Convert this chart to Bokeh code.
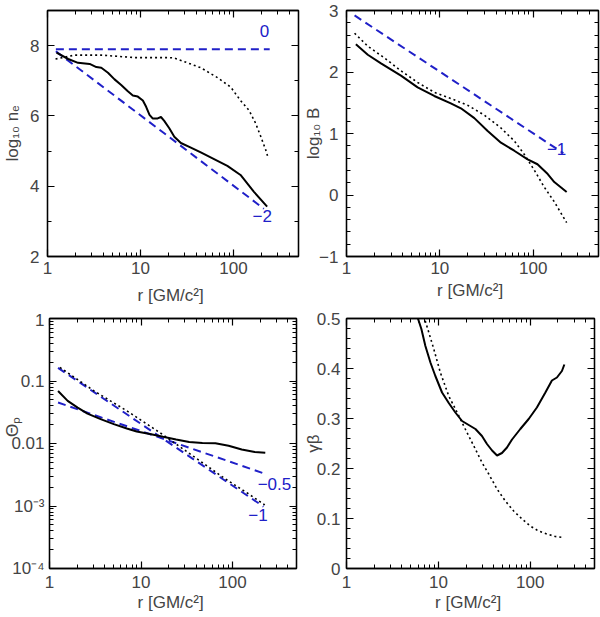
import numpy as np
from bokeh.plotting import figure
from bokeh.layouts import column, row
from bokeh.models import Range1d, FixedTicker, LinearAxis, LogAxis, Label
from bokeh.embed import file_html
from bokeh.resources import INLINE

FONT = "Liberation Sans"
BLUE = "#2020c8"

# --- panel 1: log10 n_e ---
r_ne = [1.25, 1.67, 2.13, 2.84, 3.35, 3.79, 4.47, 5.26, 6.20, 7.31, 8.27, 9.35, 10.6, 11.5,
        12.5, 13.5, 15.3, 16.6, 18.0, 20.4, 23.1, 27.2, 34.8, 44.5, 61.8, 85.9, 119, 166, 230]
ne = [7.80, 7.62, 7.51, 7.48, 7.39, 7.37, 7.23, 7.04, 6.88, 6.70, 6.58, 6.55, 6.44, 6.26,
      6.03, 5.93, 5.93, 5.97, 5.86, 5.65, 5.41, 5.23, 5.10, 4.96, 4.77, 4.58, 4.32, 3.84, 3.42]
r_ne_dot = [1.22, 1.96, 3.79, 8.60, 19.6, 23.1, 44.6, 67.2, 93.3, 119, 147, 173, 196, 221, 235]
ne_dot = [7.62, 7.73, 7.73, 7.66, 7.66, 7.65, 7.37, 7.09, 6.82, 6.44, 6.16, 5.79, 5.42, 5.05, 4.82]
r_ne_g0, ne_g0 = [1.23, 245], [7.9, 7.9]
r_ne_g2, ne_g2 = [1.23, 212], [7.84, 3.36]

# --- panel 2: log10 B ---
r_b = [1.26, 1.69, 2.34, 3.83, 5.78, 8.71, 13.1, 16.8, 23.4, 32.5, 45.1, 62.6, 87.1, 111, 143, 168, 228]
b = [2.45, 2.28, 2.14, 1.94, 1.75, 1.61, 1.49, 1.41, 1.25, 1.04, 0.85, 0.72, 0.58, 0.50, 0.34, 0.21, 0.05]
r_b_dot = [1.22, 1.69, 2.54, 3.83, 5.78, 8.71, 13.1, 19.8, 29.9, 45.1, 62.6, 80.2, 103, 131, 168, 228]
b_dot = [2.63, 2.42, 2.23, 2.02, 1.83, 1.67, 1.57, 1.46, 1.30, 1.09, 0.88, 0.66, 0.40, 0.13, -0.11, -0.45]
r_b_g1, b_g1 = [1.22, 210], [2.92, 0.68]

# --- panel 3: Theta_p ---
r_th = [1.24, 1.58, 2.03, 2.60, 3.62, 5.04, 7.00, 8.97, 12.5, 17.4, 24.2, 33.6, 46.8, 65.0, 90.6, 126, 175, 228]
th = [0.0690, 0.0481, 0.0376, 0.0301, 0.0245, 0.0204, 0.0174, 0.0156, 0.0142, 0.0128, 0.0116,
      0.0106, 0.0102, 0.0101, 0.0092, 0.0080, 0.0073, 0.0071]
r_th_dot = [1.30, 3.07, 7.00, 16.0, 36.5, 83.2, 149, 225]
th_dot = [0.165, 0.0693, 0.0333, 0.0150, 0.0064, 0.00272, 0.00157, 0.00104]
r_th_g05, th_g05 = [1.24, 218], [0.0452, 0.00334]
r_th_g1, th_g1 = [1.24, 218], [0.162, 0.00098]

# --- panel 4: gamma beta ---
r_gb = [5.87, 6.53, 7.22, 8.19, 9.27, 10.96, 12.97, 15.3, 18.1, 21.4, 25.3, 29.8, 33.8, 38.4,
        43.5, 49.2, 55.8, 63.3, 77.9, 96.1, 118, 146, 172, 195, 221, 235]
gb = [0.505, 0.479, 0.445, 0.412, 0.385, 0.352, 0.331, 0.312, 0.295, 0.287, 0.279, 0.265, 0.249,
      0.236, 0.226, 0.231, 0.242, 0.258, 0.279, 0.299, 0.322, 0.352, 0.376, 0.382, 0.395, 0.408]
r_gb_dot = [6.93, 7.87, 8.91, 10.5, 12.97, 16.0, 19.6, 24.3, 29.8, 35.3, 43.5, 53.5, 66.0, 81.3,
            100, 123, 152, 187, 231]
gb_dot = [0.505, 0.472, 0.439, 0.392, 0.345, 0.312, 0.279, 0.245, 0.212, 0.189, 0.159, 0.135,
          0.115, 0.099, 0.085, 0.075, 0.069, 0.064, 0.062]

x_major = [1, 10, 100]
x_minor = [k * 10 ** n for n in range(3) for k in range(2, 10)]
x_labels = {1: "1", 10: "10", 100: "100"}
x_title = "r  [GM/c²]"


def style_axis(ax, ticker, show_labels):
    ax.ticker = ticker
    ax.axis_line_width = 1.3
    ax.major_tick_in = 7
    ax.major_tick_out = 0
    ax.minor_tick_in = 4
    ax.minor_tick_out = 0
    ax.major_tick_line_width = 1.2
    ax.minor_tick_line_width = 1
    ax.major_label_text_font = FONT
    ax.axis_label_text_font = FONT
    ax.axis_label_text_font_style = "normal"
    if not show_labels:
        ax.major_label_text_font_size = "1px"
        ax.major_label_text_alpha = 0
        ax.major_label_standoff = 0


def make_panel(width, height, borders, y_type, y_lim, y_major, y_minor, y_labels, y_title,
               y_tick_off, y_standoff, x_tick_off, x_standoff):
    left, right, top, bottom = borders
    p = figure(width=width, height=height, x_axis_type="log", y_axis_type=y_type,
               x_range=Range1d(1, 500), y_range=Range1d(*y_lim),
               min_border_left=left, min_border_right=right,
               min_border_top=top, min_border_bottom=bottom,
               output_backend="svg", toolbar_location=None)
    p.xgrid.visible = False
    p.ygrid.visible = False
    p.outline_line_color = "black"
    p.outline_line_width = 1.3

    xb = p.xaxis[0]
    style_axis(xb, FixedTicker(ticks=x_major, minor_ticks=x_minor), True)
    xb.major_label_overrides = x_labels
    xb.major_label_text_font_size = "17px"
    xb.major_label_standoff = x_tick_off
    xb.axis_label = x_title
    xb.axis_label_text_font_size = "17px"
    xb.axis_label_standoff = x_standoff

    yl = p.yaxis[0]
    style_axis(yl, FixedTicker(ticks=y_major, minor_ticks=y_minor), True)
    yl.major_label_overrides = y_labels
    yl.major_label_text_font_size = "17px"
    yl.major_label_standoff = y_tick_off
    yl.axis_label = y_title
    yl.axis_label_text_font_size = "17px"
    yl.axis_label_standoff = y_standoff

    top_ax = LogAxis()
    style_axis(top_ax, FixedTicker(ticks=x_major, minor_ticks=x_minor), False)
    p.add_layout(top_ax, "above")
    right_ax = LogAxis() if y_type == "log" else LinearAxis()
    style_axis(right_ax, FixedTicker(ticks=y_major, minor_ticks=y_minor), False)
    p.add_layout(right_ax, "right")
    return p


def solid(p, x, y):
    p.line(x, y, line_color="black", line_width=2)


def dotted(p, x, y):
    p.line(x, y, line_color="black", line_width=1.6, line_dash="2 3")


def dashed(p, x, y):
    p.line(x, y, line_color=BLUE, line_width=2, line_dash="8 5")


def tag(p, x, y, text):
    p.add_layout(Label(x=x, y=y, text=text, text_color=BLUE, text_font=FONT,
                       text_font_size="17px", text_align="center", text_baseline="middle"))


# panel 1
p1 = make_panel(300, 310, (46, 2, 5, 54), "linear", (2, 9), [2, 4, 6, 8], [3, 5, 7, 9],
                {2: "2", 4: "4", 6: "6", 8: "8"}, "log₁₀ nₑ", 8, 5, 5, 9)
dashed(p1, r_ne_g0, ne_g0)
dashed(p1, r_ne_g2, ne_g2)
dotted(p1, r_ne_dot, ne_dot)
solid(p1, r_ne, ne)
tag(p1, 216, 8.41, "0")
tag(p1, 204, 3.14, "−2")

# panel 2
b_minor = [round(-1 + 0.2 * i, 1) for i in range(21)]
p2 = make_panel(300, 310, (46, 2, 10, 49), "linear", (-1, 3), [-1, 0, 1, 2, 3], b_minor,
                {-1: "−1", 0: "0", 1: "1", 2: "2", 3: "3"}, "log₁₀ B", 8, -7, 5, 4)
dashed(p2, r_b_g1, b_g1)
dotted(p2, r_b_dot, b_dot)
solid(p2, r_b, b)
tag(p2, 178, 0.74, "−1")

# panel 3 (leading no-break spaces lift the axis title above the 0.01 label)
th_major = [1e-4, 1e-3, 1e-2, 1e-1, 1]
th_minor = [k * 10.0 ** n for n in range(-4, 0) for k in range(2, 10)]
p3 = make_panel(300, 307, (45, 4, 8, 49), "log", (1e-4, 1), th_major, th_minor,
                {1e-4: "10⁻⁴", 1e-3: "10⁻³", 1e-2: "0.01", 1e-1: "0.1", 1: "1"},
                "\u00a0" * 7 + "Θₚ", 5, -14, 7, 2)
dashed(p3, r_th_g05, th_g05)
dashed(p3, r_th_g1, th_g1)
dotted(p3, r_th_dot, th_dot)
solid(p3, r_th, th)
tag(p3, 287, 0.00224, "−0.5")
tag(p3, 190, 0.00071, "−1")

# panel 4
gb_minor = [round(0.02 * i, 2) for i in range(26)]
p4 = make_panel(300, 307, (43, 6, 8, 49), "linear", (0, 0.5), [0, 0.1, 0.2, 0.3, 0.4, 0.5], gb_minor,
                {0: "0", 0.1: "0.1", 0.2: "0.2", 0.3: "0.3", 0.4: "0.4", 0.5: "0.5"}, "γβ",
                6, -9, 7, 2)
dotted(p4, r_gb_dot, gb_dot)
solid(p4, r_gb, gb)

layout = column(row(p1, p2), row(p3, p4))

open("out.html", "w").write(file_html(layout, INLINE))
